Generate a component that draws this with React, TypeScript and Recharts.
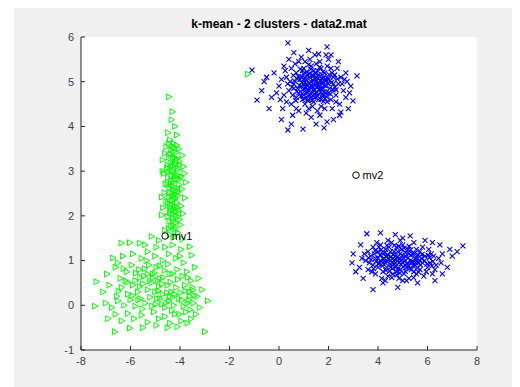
import { ScatterChart, Scatter, XAxis, YAxis, CartesianGrid, LabelList } from "recharts";

// cluster 1 (green) - vertical stripe part
const stripe1 = [
  [-4.44, 4.66], [-4.3, 4.33], [-4.34, 4.15], [-4.2, 4.0], [-4.48, 3.86], [-4.12, 3.81], [-4.4, 3.7],
  [-4.25, 3.62], [-4.55, 3.55], [-4.05, 3.5], [-4.35, 3.48], [-4.6, 3.4], [-4.15, 3.42], [-3.9, 3.35],
  [-4.45, 3.32], [-4.28, 3.3], [-4.7, 3.25], [-4.02, 3.22], [-4.38, 3.18], [-4.2, 3.15], [-3.85, 3.1],
  [-4.52, 3.08], [-4.1, 3.02], [-4.32, 3.0], [-4.65, 2.95], [-4.22, 2.92], [-3.95, 2.88], [-4.48, 2.85],
  [-4.15, 2.82], [-4.35, 2.78], [-3.75, 2.75], [-4.58, 2.72], [-4.05, 2.7], [-4.28, 2.66], [-4.42, 2.62],
  [-3.92, 2.6], [-4.18, 2.56], [-4.62, 2.52], [-4.3, 2.5], [-4.08, 2.46], [-4.45, 2.42], [-3.8, 2.4],
  [-4.22, 2.36], [-4.55, 2.32], [-4.12, 2.3], [-4.35, 2.26], [-3.95, 2.22], [-4.68, 2.18], [-4.25, 2.16],
  [-4.05, 2.12], [-4.4, 2.08], [-3.88, 2.05], [-4.18, 2.02], [-4.5, 1.98], [-4.3, 1.95], [-4.02, 1.92],
  [-4.42, 1.88], [-4.15, 1.85], [-3.98, 1.8], [-4.35, 1.76], [-4.22, 1.72], [-4.6, 1.68], [-4.08, 1.62],
  [-4.4, 1.58], [-4.25, 1.52], [-3.9, 1.48], [-4.12, 3.58], [-4.38, 3.05], [-4.18, 2.4], [-4.28, 2.05],
  [-4.45, 3.62], [-4.1, 2.9], [-4.32, 2.34], [-4.2, 3.3], [-4.5, 2.7], [-4.0, 3.15], [-4.25, 2.6],
  [-4.15, 2.1], [-3.82, 2.95], [-4.73, 2.02], [-4.73, 2.42], [-4.7, 3.0],
  [-4.22, 3.52], [-4.38, 3.38], [-4.12, 3.28], [-4.3, 3.12], [-4.46, 2.98], [-4.2, 2.88], [-4.36, 2.72],
  [-4.14, 2.62], [-4.3, 2.44], [-4.48, 2.28], [-4.2, 2.22], [-4.36, 2.12], [-4.1, 1.98], [-4.28, 1.88],
  [-4.44, 1.72], [-4.18, 1.66], [-4.26, 3.44], [-4.08, 3.06], [-4.42, 2.52], [-4.24, 2.76], [-4.16, 3.2],
  [-4.34, 2.9], [-4.06, 2.54], [-4.4, 2.2], [-4.26, 1.78], [-4.5, 3.14], [-4.02, 2.82], [-4.3, 3.56],
  [-4.2, 2.48], [-4.12, 2.18],
];

// cluster 1 (green) - lower blob part
const blob1 = [
  [-6.36, 1.39], [-6.02, 1.4], [-5.62, 1.39], [-5.14, 1.54], [-4.85, 1.45], [-4.6, 1.3], [-4.3, 1.35],
  [-3.95, 1.25], [-3.6, 1.31], [-3.53, 1.12], [-6.7, 1.06], [-6.3, 1.1], [-5.9, 1.15], [-5.55, 1.05],
  [-5.3, 1.2], [-5.0, 1.1], [-4.7, 1.0], [-4.45, 1.15], [-4.15, 1.05], [-3.85, 0.95], [-3.4, 0.85],
  [-7.37, 0.53], [-6.95, 0.7], [-6.6, 0.85], [-6.4, 0.6], [-6.15, 0.75], [-5.95, 0.9], [-5.8, 0.55],
  [-5.65, 0.8], [-5.45, 0.65], [-5.25, 0.9], [-5.1, 0.7], [-4.95, 0.85], [-4.8, 0.6], [-4.62, 0.78],
  [-4.48, 0.92], [-4.3, 0.7], [-4.1, 0.8], [-3.9, 0.65], [-3.72, 0.75], [-3.55, 0.55], [-3.25, 0.6],
  [-7.1, 0.3], [-6.85, 0.45], [-6.55, 0.2], [-6.35, 0.4], [-6.1, 0.25], [-5.9, 0.45], [-5.7, 0.3],
  [-5.5, 0.48], [-5.3, 0.35], [-5.15, 0.5], [-5.0, 0.3], [-4.85, 0.42], [-4.7, 0.25], [-4.5, 0.45],
  [-4.35, 0.3], [-4.15, 0.4], [-3.98, 0.28], [-3.8, 0.45], [-3.62, 0.3], [-3.47, 0.34], [-3.3, 0.2],
  [-3.1, 0.35], [-7.43, -0.02], [-7.0, 0.05], [-6.75, -0.05], [-6.5, 0.1], [-6.25, 0.0], [-6.0, 0.12],
  [-5.8, -0.02], [-5.6, 0.15], [-5.4, 0.05], [-5.2, 0.18], [-4.98, 0.02], [-4.8, 0.15], [-4.6, -0.05],
  [-4.45, 0.1], [-4.25, 0.0], [-4.05, 0.15], [-3.85, -0.02], [-3.65, 0.12], [-3.45, 0.05], [-3.2, -0.05],
  [-2.87, 0.1], [-6.9, -0.3], [-6.6, -0.2], [-6.35, -0.35], [-6.1, -0.18], [-5.85, -0.3], [-5.55, -0.22],
  [-5.3, -0.38], [-5.05, -0.15], [-4.85, -0.3], [-4.6, -0.25], [-4.4, -0.4], [-4.2, -0.2], [-3.95, -0.35],
  [-3.75, -0.15], [-3.55, -0.3], [-3.35, -0.2], [-6.63, -0.59], [-6.02, -0.51], [-5.5, -0.5], [-4.95, -0.45],
  [-4.5, -0.5], [-4.1, -0.48], [-3.7, -0.4], [-2.99, -0.59], [-5.1, 0.62], [-4.9, 0.55], [-4.72, 0.48],
  [-5.3, 0.7], [-4.4, 0.2], [-4.55, 0.05], [-4.3, 0.18], [-3.6, 0.2], [-3.5, 0.4], [-3.7, 0.05],
  [-5.6, 0.62], [-6.2, 0.55], [-4.95, 1.3], [-5.4, 1.35], [-4.0, 1.1], [-6.5, 0.95], [-1.25, 5.17],
  [-5.42, 0.82], [-5.22, 0.55], [-5.02, 0.72], [-4.88, 0.32], [-4.68, 0.62], [-4.52, 0.28], [-4.38, 0.52],
  [-4.22, 0.25], [-4.08, 0.58], [-3.92, 0.12], [-3.78, 0.32], [-5.62, 0.42], [-5.78, 0.72], [-5.92, 0.22],
  [-6.12, 0.52], [-6.28, 0.82], [-5.52, -0.08], [-5.12, -0.02], [-4.72, 0.02], [-4.32, -0.12], [-4.02, -0.2],
  [-3.58, -0.1], [-3.42, 0.22], [-4.82, 0.88], [-5.35, 1.0], [-4.42, 0.7], [-3.68, 0.62], [-6.48, 0.32],
  [-5.68, 0.12], [-4.92, 0.15],
];

// cluster 2 (blue) - top blob
const top2 = [
  [0.36, 5.87], [1.94, 5.78], [3.15, 5.13], [-0.89, 4.59], [0.36, 3.92], [0.97, 3.94], [1.82, 3.97],
  [1.94, 4.1], [2.99, 4.57], [2.5, 4.32], [-1.09, 5.26], [-0.6, 5.0], [-0.7, 4.8], [-0.4, 4.4],
  [-0.5, 5.1], [0.1, 4.15], [2.8, 4.4], [2.9, 4.9], [2.4, 5.45], [2.1, 5.6], [0.6, 5.65], [1.2, 5.7],
  [1.6, 5.62], [0.2, 5.35], [-0.2, 5.2], [-0.3, 4.65], [0.5, 4.05], [1.5, 4.05], [2.2, 4.15], [2.7, 5.2],
  [0.0, 4.9], [0.2, 4.7], [0.3, 5.1], [0.4, 4.8], [0.5, 5.3], [0.5, 4.5], [0.6, 4.95], [0.7, 5.2],
  [0.7, 4.65], [0.8, 5.45], [0.8, 4.35], [0.9, 4.9], [0.9, 5.1], [1.0, 4.7], [1.0, 5.3], [1.05, 4.5],
  [1.1, 4.95], [1.15, 5.15], [1.2, 4.8], [1.2, 4.4], [1.25, 5.5], [1.3, 5.0], [1.3, 4.65], [1.35, 4.9],
  [1.4, 5.25], [1.4, 4.55], [1.45, 5.05], [1.5, 4.75], [1.5, 5.4], [1.55, 4.95], [1.6, 4.6], [1.6, 5.15],
  [1.65, 4.85], [1.7, 5.3], [1.7, 4.45], [1.75, 5.0], [1.8, 4.7], [1.85, 5.2], [1.9, 4.9], [1.95, 4.55],
  [2.0, 5.05], [2.0, 4.75], [2.1, 5.3], [2.1, 4.6], [2.2, 4.95], [2.25, 5.15], [2.3, 4.7], [2.4, 4.95],
  [2.45, 4.5], [2.5, 5.1], [2.6, 4.8], [2.7, 4.65], [0.1, 5.05], [0.3, 4.55], [0.45, 5.0], [0.55, 4.7],
  [0.65, 5.4], [0.75, 4.85], [0.85, 5.05], [0.95, 4.6], [1.05, 5.45], [1.1, 4.3], [1.15, 4.75], [1.25, 5.1],
  [1.35, 4.45], [1.45, 5.6], [1.55, 4.35], [1.65, 5.45], [1.75, 4.7], [1.85, 4.4], [1.95, 5.35], [2.05, 4.85],
  [2.15, 4.4], [2.35, 5.3], [2.55, 4.95], [2.65, 5.05], [-0.1, 4.75], [0.15, 4.4], [0.25, 5.25], [0.35, 4.95],
  [0.95, 5.25], [1.0, 4.95], [1.1, 5.05], [1.2, 4.6], [1.3, 5.35], [1.4, 4.8], [1.5, 5.0], [1.6, 4.9],
  [1.7, 4.6], [1.8, 5.1], [1.9, 4.75], [2.0, 5.5], [2.2, 5.1], [2.3, 4.55], [1.35, 5.15], [1.15, 4.9],
  [1.45, 4.65], [0.8, 4.75], [0.6, 4.85], [1.05, 4.85], [1.55, 5.25], [1.75, 4.95], [1.25, 4.7], [0.9, 5.55],
  [0.4, 5.5], [0.05, 4.6], [2.85, 4.75], [2.75, 5.0], [0.7, 4.4], [1.9, 5.6], [2.45, 4.25], [0.55, 4.25],
  [1.3, 4.2], [1.65, 4.25],
  [0.62, 5.02], [0.72, 4.78], [0.78, 5.12], [0.88, 4.68], [0.92, 4.98], [0.98, 5.18], [1.02, 4.62],
  [1.08, 4.88], [1.12, 5.22], [1.18, 4.68], [1.22, 4.98], [1.28, 5.28], [1.32, 4.78], [1.38, 5.02],
  [1.42, 4.72], [1.48, 5.18], [1.52, 4.88], [1.58, 5.08], [1.62, 4.72], [1.68, 5.02], [1.72, 4.82],
  [1.78, 5.22], [1.82, 4.92], [1.88, 5.06], [1.92, 4.66], [1.98, 4.96], [2.02, 5.16], [2.08, 4.72],
  [2.12, 4.98], [2.18, 4.82], [0.68, 4.58], [0.82, 4.92], [0.96, 4.82], [1.06, 5.08], [1.16, 4.58],
  [1.26, 4.88], [1.36, 5.12], [1.46, 4.92], [1.56, 4.68], [1.66, 5.12], [1.76, 4.86], [1.86, 4.62],
  [1.96, 5.08], [2.06, 5.02], [0.86, 5.28], [1.34, 4.58], [1.64, 5.32], [2.26, 4.88], [0.52, 4.88],
  [2.36, 5.06], [1.0, 5.06], [1.22, 5.18], [1.44, 4.82], [1.58, 4.98], [1.82, 4.78], [0.74, 5.06],
  [1.12, 4.78], [1.72, 5.08], [1.3, 4.92], [1.5, 5.1], [1.9, 5.02], [1.04, 4.98], [1.38, 4.68],
  [1.62, 4.82], [0.94, 4.74], [2.14, 5.2], [0.58, 5.14], [1.8, 4.56], [1.2, 5.38], [2.3, 4.82],
];

// cluster 2 (blue) - right blob
const right2 = [
  [7.43, 1.33], [2.95, 0.95], [3.0, 1.15], [3.1, 0.75], [3.55, 1.6], [4.1, 1.62], [4.7, 1.58], [5.3, 1.55],
  [3.8, 0.35], [4.8, 0.4], [6.5, 1.35], [6.9, 1.25], [7.0, 1.1], [6.8, 0.85], [6.6, 0.7], [6.3, 0.55],
  [4.2, 0.5], [5.6, 0.5], [7.2, 1.2], [6.2, 1.4], [3.3, 1.35], [3.4, 0.6], [5.0, 1.5], [5.9, 1.45],
  [3.5, 1.0], [3.6, 1.2], [3.6, 0.8], [3.7, 1.1], [3.8, 0.9], [3.8, 1.3], [3.9, 0.7], [3.9, 1.05],
  [4.0, 1.2], [4.0, 0.85], [4.1, 1.0], [4.1, 1.35], [4.2, 0.75], [4.2, 1.15], [4.3, 0.95], [4.3, 1.25],
  [4.4, 0.65], [4.4, 1.05], [4.5, 0.85], [4.5, 1.2], [4.55, 1.4], [4.6, 0.95], [4.6, 0.7], [4.7, 1.1],
  [4.7, 0.85], [4.75, 1.3], [4.8, 1.0], [4.85, 0.6], [4.9, 1.15], [4.9, 0.8], [5.0, 0.95], [5.0, 1.35],
  [5.05, 0.7], [5.1, 1.1], [5.15, 0.85], [5.2, 1.25], [5.25, 0.6], [5.3, 1.0], [5.35, 0.8], [5.4, 1.15],
  [5.45, 1.4], [5.5, 0.9], [5.55, 0.7], [5.6, 1.05], [5.7, 1.2], [5.7, 0.8], [5.8, 0.95], [5.85, 0.65],
  [5.9, 1.1], [6.0, 0.85], [6.05, 1.25], [6.1, 0.95], [6.2, 0.7], [6.25, 1.1], [6.35, 0.9], [6.45, 1.05],
  [3.45, 1.15], [3.65, 0.95], [3.75, 0.75], [3.85, 1.15], [3.95, 1.4], [4.05, 0.95], [4.15, 0.6], [4.25, 1.05],
  [4.35, 0.85], [4.45, 1.3], [4.5, 1.0], [4.65, 1.2], [4.75, 0.75], [4.85, 0.95], [4.95, 1.25], [5.05, 1.05],
  [5.15, 0.55], [5.25, 1.15], [5.35, 0.95], [5.45, 0.75], [5.55, 1.25], [5.65, 0.95], [5.75, 1.05], [5.95, 0.75],
  [6.15, 1.15], [6.3, 0.8], [6.55, 0.95], [6.6, 1.15], [4.4, 1.45], [4.9, 1.45], [5.8, 1.3], [4.3, 0.55],
  [5.0, 0.55], [3.25, 0.85], [3.35, 1.05], [4.6, 1.05], [4.8, 1.2], [5.2, 0.95], [4.0, 1.05], [5.5, 1.05],
  [4.7, 0.95], [4.2, 0.95], [5.1, 0.9],
  [3.92, 0.98], [4.02, 0.92], [4.08, 1.12], [4.18, 0.88], [4.22, 1.02], [4.28, 1.18], [4.32, 0.78],
  [4.38, 0.98], [4.42, 1.12], [4.48, 0.92], [4.52, 1.08], [4.58, 0.82], [4.62, 1.14], [4.68, 1.02],
  [4.72, 0.88], [4.78, 1.08], [4.82, 0.82], [4.88, 1.04], [4.92, 0.92], [4.98, 1.12], [5.02, 0.86],
  [5.08, 0.98], [5.12, 1.18], [5.18, 0.92], [5.22, 1.06], [5.28, 0.82], [5.32, 1.12], [5.38, 0.98],
  [5.42, 0.88], [5.48, 1.16], [5.52, 0.96], [5.58, 0.84], [5.62, 1.12], [5.68, 1.0], [5.72, 0.9],
  [5.78, 1.14], [5.88, 1.0], [5.98, 0.92], [6.08, 1.06], [6.18, 0.88], [3.72, 1.02], [3.82, 0.82],
  [3.88, 1.22], [4.12, 1.24], [4.36, 1.34], [4.56, 0.62], [4.66, 1.34], [4.84, 1.32], [5.06, 1.28],
  [5.26, 1.32], [5.44, 0.62], [5.64, 0.74], [4.46, 0.76], [4.76, 0.68], [5.1, 0.76], [4.34, 1.1],
  [4.64, 0.92], [4.94, 1.02], [5.24, 0.88], [5.54, 1.02], [4.04, 1.3], [6.02, 1.12], [6.22, 0.98],
  [3.62, 1.06], [4.88, 0.72], [5.32, 1.24],
];

const centroidNames = ["mv1", "mv2"];
const centroidPos = [[-4.6, 1.55], [3.11, 2.91]];

const xTicks = [-8, -6, -4, -2, 0, 2, 4, 6, 8];
const yTicks = [-1, 0, 1, 2, 3, 4, 5, 6];

const toPts = (arr: number[][]) => arr.map(([x, y]) => ({ x, y }));
const greenPts = toPts([...stripe1, ...blob1]);
const bluePts = toPts([...top2, ...right2]);
const centroids = centroidPos.map(([x, y], i) => ({ x, y, name: centroidNames[i] }));

const font = "'Liberation Sans', Arial, Helvetica, sans-serif";

const Cross = (p: any) => (
  <path
    d={`M${p.cx - 2.5},${p.cy - 2.5}L${p.cx + 2.5},${p.cy + 2.5}M${p.cx - 2.5},${p.cy + 2.5}L${p.cx + 2.5},${p.cy - 2.5}`}
    stroke="#0000ff"
    strokeWidth={1.1}
    fill="none"
  />
);

const Tri = (p: any) => (
  <path
    d={`M${p.cx - 2.5},${p.cy - 3}L${p.cx + 3},${p.cy}L${p.cx - 2.5},${p.cy + 3}Z`}
    stroke="#00ff00"
    strokeWidth={1}
    fill="none"
  />
);

const Ring = (p: any) => (
  <circle cx={p.cx} cy={p.cy} r={3.3} stroke="#000" strokeWidth={1} fill="none" />
);

export default function App() {
  return (
    <div style={{ position: "relative", marginLeft: 6, width: 506, height: 379, background: "#f0f0f0" }}>
      <div
        style={{
          position: "absolute",
          left: 67,
          width: 396,
          top: 9,
          textAlign: "center",
          fontFamily: font,
          fontWeight: "bold",
          fontSize: 12,
          color: "#000",
        }}
      >
        k-mean - 2 clusters - data2.mat
      </div>
      <ScatterChart width={506} height={379} margin={{ top: 29, right: 43, left: 37, bottom: 7 }}>
        <CartesianGrid fill="#fff" stroke="none" />
        <XAxis
          type="number"
          dataKey="x"
          domain={[-8, 8]}
          ticks={xTicks}
          allowDataOverflow
          height={30}
          tickSize={-4}
          tickMargin={11}
          stroke="#262626"
          tick={{ fontSize: 11, fill: "#404040", fontFamily: font }}
        />
        <YAxis
          type="number"
          dataKey="y"
          domain={[-1, 6]}
          ticks={yTicks}
          allowDataOverflow
          width={30}
          tickSize={-4}
          tickMargin={11}
          stroke="#262626"
          tick={{ fontSize: 11, fill: "#404040", fontFamily: font }}
        />
        <Scatter data={greenPts} shape={Tri} isAnimationActive={false} />
        <Scatter data={bluePts} shape={Cross} isAnimationActive={false} />
        <Scatter data={centroids} shape={Ring} isAnimationActive={false}>
          <LabelList dataKey="name" position="right" offset={2} fill="#000" fontSize={11} fontFamily={font} />
        </Scatter>
      </ScatterChart>
    </div>
  );
}
